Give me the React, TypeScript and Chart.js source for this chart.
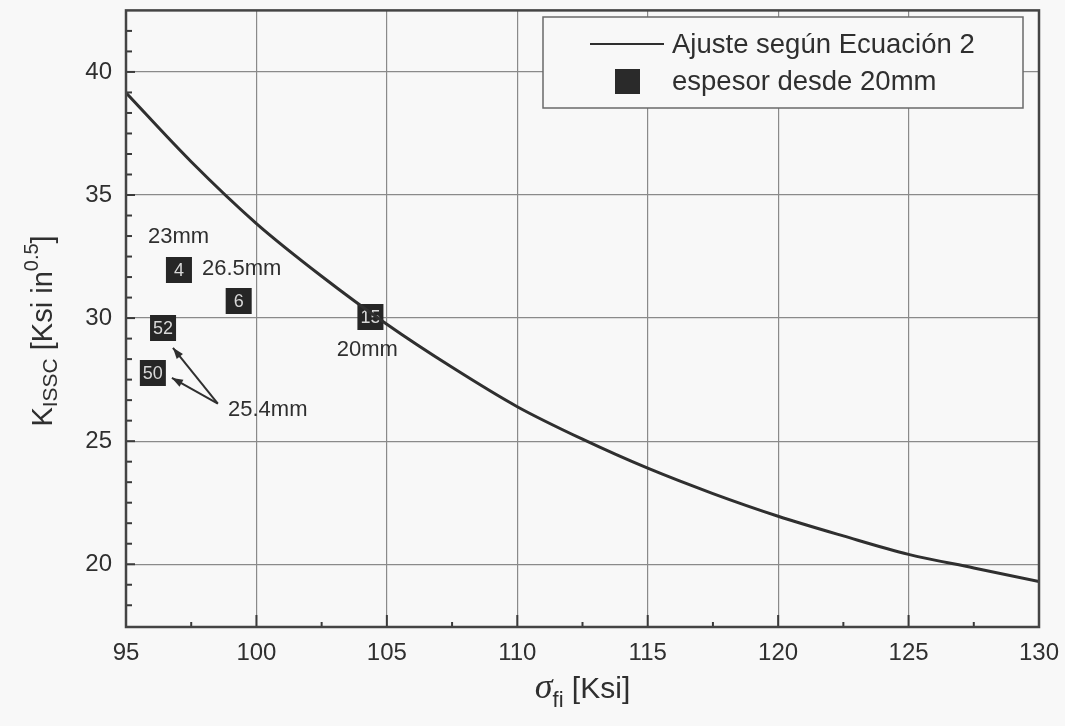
import React, { useEffect, useRef } from "react";
import { Chart, registerables } from "chart.js";

Chart.register(...registerables);

// Fitted curve
const curveX = [95, 97.5, 100, 102.5, 105, 107.5, 110, 112.5, 115, 117.5, 120, 122.5, 125, 127.5, 130];
const curveY = [39.15, 36.35, 33.84, 31.7, 29.75, 28.0, 26.4, 25.08, 23.9, 22.87, 21.95, 21.15, 20.4, 19.85, 19.3];

// Samples
const sampleX = [97.03, 99.32, 104.37, 96.42, 96.03];
const sampleY = [31.95, 30.69, 30.04, 29.6, 27.77];
const sampleLabels = ["4", "6", "15", "52", "50"];

// Annotations (left x, middle y in data units)
const noteText = ["23mm", "26.5mm", "20mm", "25.4mm"];
const noteX = [95.84, 97.91, 103.08, 98.91];
const noteY = [33.28, 31.98, 28.7, 26.28];

// Arrows: from -> to
const arrowFromX = [98.52, 98.52];
const arrowFromY = [26.52, 26.52];
const arrowToX = [96.8, 96.76];
const arrowToY = [28.79, 27.57];

const xTicks = [95, 100, 105, 110, 115, 120, 125, 130];
const yTicks = [20, 25, 30, 35, 40];

const legendLabels = ["Ajuste según Ecuación 2", "espesor desde 20mm"];

const SANS = "'Liberation Sans', Arial, Helvetica, sans-serif";
const BG = "#f8f8f8";
const INK = "#2f2f2f";
const SHIFT = 8; // canvas drawn 8px above the page top

const decor = {
  id: "decor",
  afterDatasetDraw(chart: any, args: any) {
    if (args.index !== 1) return;
    const ctx = chart.ctx;
    const xs = chart.scales.x;
    const ys = chart.scales.y;
    ctx.save();
    ctx.fillStyle = "#d8d8d8";
    ctx.font = `18px ${SANS}`;
    ctx.textAlign = "center";
    ctx.textBaseline = "middle";
    sampleLabels.forEach((t, i) => {
      ctx.fillText(t, xs.getPixelForValue(sampleX[i]), ys.getPixelForValue(sampleY[i]) + 1);
    });
    ctx.restore();
  },
  afterDatasetsDraw(chart: any) {
    const ctx = chart.ctx;
    const xs = chart.scales.x;
    const ys = chart.scales.y;
    const { left, right, top, bottom } = chart.chartArea;
    ctx.save();
    // minor ticks y
    ctx.strokeStyle = "#3a3a3a";
    ctx.lineWidth = 2;
    const step = 5 / 6;
    for (let v = yTicks[0] - 5; v <= yTicks[yTicks.length - 1] + 5; v += step) {
      const p = ys.getPixelForValue(v);
      if (p < top + 2 || p > bottom - 2) continue;
      const isMajor = Math.abs(Math.round(v / 5) * 5 - v) < 0.01;
      ctx.beginPath();
      ctx.moveTo(left, p);
      ctx.lineTo(left + (isMajor ? 9 : 6), p);
      ctx.stroke();
    }
    // x ticks
    xTicks.forEach((v) => {
      const p = xs.getPixelForValue(v);
      ctx.beginPath();
      ctx.moveTo(p, bottom);
      ctx.lineTo(p, bottom - 12);
      ctx.stroke();
    });
    for (let i = 0; i < xTicks.length - 1; i++) {
      const p = xs.getPixelForValue((xTicks[i] + xTicks[i + 1]) / 2);
      ctx.beginPath();
      ctx.moveTo(p, bottom);
      ctx.lineTo(p, bottom - 5);
      ctx.stroke();
    }
    // annotations
    ctx.fillStyle = INK;
    ctx.font = `22px ${SANS}`;
    ctx.textAlign = "left";
    ctx.textBaseline = "middle";
    noteText.forEach((t, i) => {
      ctx.fillText(t, xs.getPixelForValue(noteX[i]), ys.getPixelForValue(noteY[i]));
    });
    // arrows
    ctx.strokeStyle = INK;
    ctx.lineWidth = 2;
    arrowFromX.forEach((_, i) => {
      const x1 = xs.getPixelForValue(arrowFromX[i]);
      const y1 = ys.getPixelForValue(arrowFromY[i]);
      const x2 = xs.getPixelForValue(arrowToX[i]);
      const y2 = ys.getPixelForValue(arrowToY[i]);
      ctx.beginPath();
      ctx.moveTo(x1, y1);
      ctx.lineTo(x2, y2);
      ctx.stroke();
      const a = Math.atan2(y2 - y1, x2 - x1);
      const L = 11, W = 4;
      ctx.beginPath();
      ctx.moveTo(x2, y2);
      ctx.lineTo(x2 - L * Math.cos(a) + W * Math.sin(a), y2 - L * Math.sin(a) - W * Math.cos(a));
      ctx.lineTo(x2 - L * Math.cos(a) - W * Math.sin(a), y2 - L * Math.sin(a) + W * Math.cos(a));
      ctx.closePath();
      ctx.fill();
    });
    // border
    ctx.strokeStyle = "#444";
    ctx.lineWidth = 2.5;
    ctx.strokeRect(left, top, right - left, bottom - top);
    ctx.restore();
  },
  afterDraw(chart: any) {
    const ctx = chart.ctx;
    const { left, right } = chart.chartArea;
    ctx.save();
    ctx.translate(0, SHIFT);
    // legend
    const lx = 543, ly = 17, lw = 480, lh = 91;
    ctx.fillStyle = BG;
    ctx.fillRect(lx, ly, lw, lh);
    ctx.strokeStyle = "#6a6a6a";
    ctx.lineWidth = 1.5;
    ctx.strokeRect(lx, ly, lw, lh);
    ctx.strokeStyle = INK;
    ctx.lineWidth = 2;
    ctx.beginPath();
    ctx.moveTo(590, 44);
    ctx.lineTo(664, 44);
    ctx.stroke();
    ctx.fillStyle = "#2a2a2a";
    ctx.fillRect(615, 69, 25, 25);
    ctx.fillStyle = INK;
    ctx.font = `27.5px ${SANS}`;
    ctx.textAlign = "left";
    ctx.textBaseline = "middle";
    ctx.fillText(legendLabels[0], 672, 45);
    ctx.fillText(legendLabels[1], 672, 82);

    // y title
    ctx.save();
    ctx.translate(36, 331);
    ctx.rotate(-Math.PI / 2);
    const segs = [
      { t: "K", f: 29, dy: 0 },
      { t: "ISSC", f: 21, dy: 7 },
      { t: " [Ksi in", f: 29, dy: 0 },
      { t: "0.5", f: 20, dy: -12 },
      { t: "]", f: 29, dy: 0 },
    ];
    let total = 0;
    segs.forEach((s) => {
      ctx.font = `${s.f}px ${SANS}`;
      total += ctx.measureText(s.t).width;
    });
    let cx = -total / 2;
    ctx.textBaseline = "middle";
    ctx.textAlign = "left";
    segs.forEach((s) => {
      ctx.font = `${s.f}px ${SANS}`;
      ctx.fillText(s.t, cx, 8 + s.dy);
      cx += ctx.measureText(s.t).width;
    });
    ctx.restore();

    // x title
    const xsegs = [
      { t: "σ", f: `italic 36px 'Liberation Serif', 'DejaVu Serif', serif`, dy: 0 },
      { t: "fi", f: `22px ${SANS}`, dy: 9 },
      { t: " [Ksi]", f: `30px ${SANS}`, dy: 0 },
    ];
    let tw = 0;
    xsegs.forEach((s) => {
      ctx.font = s.f;
      tw += ctx.measureText(s.t).width;
    });
    let px = (left + right) / 2 - tw / 2;
    ctx.textBaseline = "alphabetic";
    xsegs.forEach((s) => {
      ctx.font = s.f;
      ctx.fillText(s.t, px, 698 + s.dy);
      px += ctx.measureText(s.t).width;
    });
    ctx.restore();
  },
};

export default function App() {
  const ref = useRef<HTMLCanvasElement | null>(null);
  useEffect(() => {
    if (!ref.current) return;
    const chart = new Chart(ref.current, {
      type: "line",
      data: {
        datasets: [
          {
            label: legendLabels[0],
            data: curveX.map((x, i) => ({ x, y: curveY[i] })),
            borderColor: INK,
            borderWidth: 3,
            pointRadius: 0,
            cubicInterpolationMode: "monotone",
            fill: false,
          },
          {
            label: legendLabels[1],
            data: sampleX.map((x, i) => ({ x, y: sampleY[i] })),
            showLine: false,
            pointStyle: "rect",
            pointRadius: 18.4,
            pointBackgroundColor: "#262626",
            pointBorderColor: "#262626",
            pointBorderWidth: 0,
          },
        ],
      },
      options: {
        animation: false,
        responsive: false,
        layout: { padding: { top: 1, right: 26, left: 0, bottom: 0 } },
        plugins: { legend: { display: false }, tooltip: { enabled: false } },
        scales: {
          x: {
            type: "linear",
            min: 95,
            max: 130,
            afterBuildTicks: (a: any) => {
              a.ticks = xTicks.map((v) => ({ value: v }));
            },
            afterFit: (s: any) => {
              s.height = 99;
              s.paddingLeft = 0;
              s.paddingRight = 0;
            },
            ticks: { font: { size: 24, family: SANS }, color: INK, padding: 12, maxRotation: 0 },
            grid: { color: "#8a8a8a", lineWidth: 1.2, drawTicks: false },
            border: { display: false },
          },
          y: {
            type: "linear",
            min: 17.45,
            max: 42.5,
            afterBuildTicks: (a: any) => {
              a.ticks = yTicks.map((v) => ({ value: v }));
            },
            afterFit: (s: any) => {
              s.width = 126;
              s.paddingTop = 0;
              s.paddingBottom = 0;
            },
            ticks: { font: { size: 24, family: SANS }, color: INK, padding: 14 },
            grid: { color: "#8a8a8a", lineWidth: 1.2, drawTicks: false },
            border: { display: false },
          },
        },
      },
      plugins: [decor],
    } as any);
    return () => chart.destroy();
  }, []);
  return (
    <div
      style={{
        position: "fixed",
        left: 0,
        top: 0,
        width: 1065,
        height: 726,
        background: BG,
        overflow: "hidden",
      }}
    >
      <canvas
        ref={ref}
        width={1065}
        height={726 + SHIFT}
        style={{ width: 1065, height: 726 + SHIFT, display: "block", marginTop: -SHIFT }}
      />
    </div>
  );
}
